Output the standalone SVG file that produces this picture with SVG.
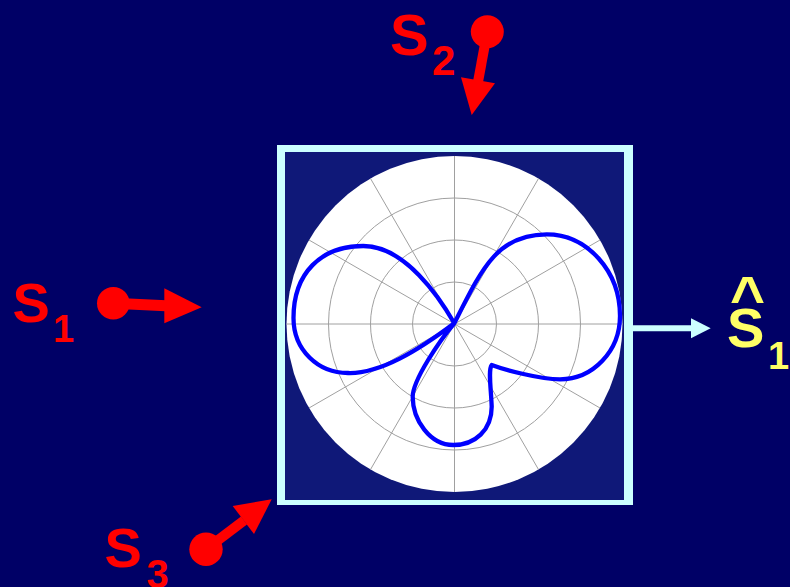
<svg xmlns="http://www.w3.org/2000/svg" width="790" height="587" viewBox="0 0 790 587">
<style>
.lbl{font-family:"Liberation Sans",Arial,sans-serif;font-weight:bold}
.red{fill:#ff0000}
.yel{fill:#ffff66}
.grid{fill:none;stroke:#a0a0a0;stroke-width:1}
.stem{stroke:#ff0000;fill:none}
</style>
<rect x="0" y="0" width="790" height="587" fill="#000066"/>
<g id="polar-box">
<rect x="277" y="145" width="356" height="360" fill="#ccffff"/>
<rect x="285" y="152" width="339" height="348" fill="#0f1878"/>
<circle cx="454.5" cy="324" r="168" fill="#ffffff"/>
<g class="grid">
<circle cx="454.5" cy="324" r="42"/>
<circle cx="454.5" cy="324" r="84"/>
<circle cx="454.5" cy="324" r="126"/>
<line x1="286.5" y1="324" x2="622.5" y2="324"/>
<line x1="600" y1="240" x2="309" y2="408"/>
<line x1="538.5" y1="178.5" x2="370.5" y2="469.5"/>
<line x1="454.5" y1="156" x2="454.5" y2="492"/>
<line x1="370.5" y1="178.5" x2="538.5" y2="469.5"/>
<line x1="309" y1="240" x2="600" y2="408"/>
</g>
<path fill="none" stroke="#0000ff" stroke-width="4.3" stroke-linejoin="round" d="M454.3,323.3 C481.3,269.9 496.7,234.3 546.7,234.3 C587,234.3 620,271 620,316 C620,351 593,379.3 560,379.3 C540,379.3 505,370 491.7,365 C488,370 491,388 491.7,406.7 C491.7,430 475,445 453.3,445 C430,445 412.7,420 412.7,396.7 C412.7,380 440,340 454.3,323.3 C418.3,350.3 380,374 348,373 C318,373 293.5,350 293.5,318 C293.5,273 321,246 363.3,246 C405,246 440,298 454.3,323.3 Z"/>
</g>
<g id="source-s1">
<text class="lbl red" x="12.5" y="321.7" font-size="56">S</text>
<text class="lbl red" x="53" y="341.7" font-size="38">1</text>
<circle class="red" cx="113.3" cy="303.3" r="16.3"/>
</g>
<g id="source-s2">
<text class="lbl red" x="390" y="55" font-size="58">S</text>
<text class="lbl red" x="432" y="75" font-size="42">2</text>
<circle class="red" cx="487.3" cy="31.7" r="16.5"/>
</g>
<g id="source-s3">
<text class="lbl red" x="104.5" y="566.7" font-size="56">S</text>
<text class="lbl red" x="146.5" y="588" font-size="40">3</text>
<circle class="red" cx="206" cy="549.3" r="16.7"/>
</g>
<g id="output-s1hat">
<text class="lbl yel"><tspan x="730" y="318" font-size="60">^</tspan><tspan x="727" y="347.3" font-size="56">S</tspan><tspan x="768" y="369" font-size="38">1</tspan></text>
</g>
<g id="connectors">
<line class="stem" x1="113.3" y1="303.3" x2="166" y2="305.8" stroke-width="11"/>
<polygon class="red" points="164.3,288.3 201.7,307.3 164.3,323.3"/>
<line class="stem" x1="487.3" y1="31.7" x2="478" y2="82" stroke-width="10"/>
<polygon class="red" points="461,77.3 471.7,115 495,83.3"/>
<line class="stem" x1="206" y1="549.3" x2="244" y2="520.5" stroke-width="10"/>
<polygon class="red" points="232.7,506 271.7,499.3 254,534"/>
<line x1="633" y1="328.3" x2="693" y2="328.3" stroke="#ccffff" stroke-width="6"/>
<polygon fill="#ccffff" points="691,318.3 710.7,328.3 691,338.3"/>
</g>
</svg>
